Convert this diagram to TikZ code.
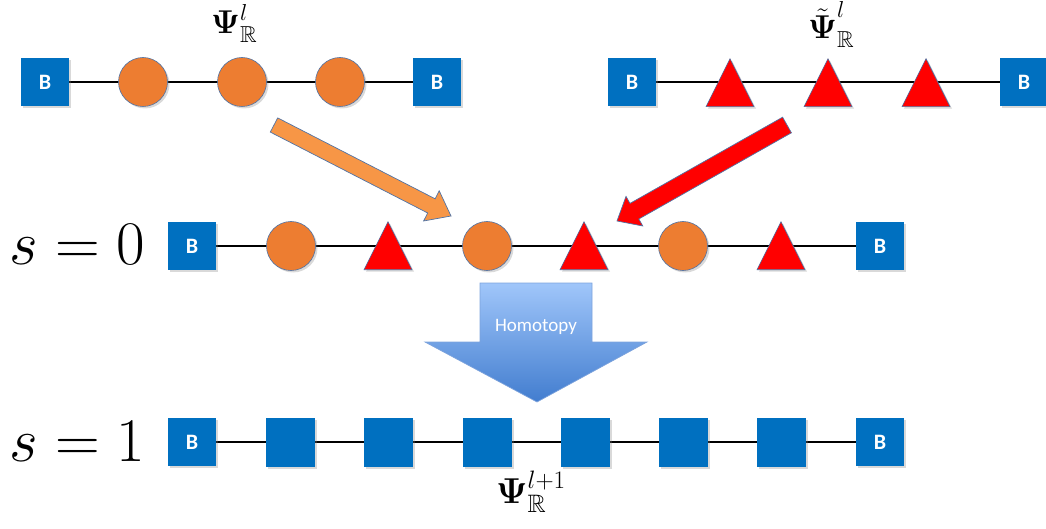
\RequirePackage{fix-cm}
\documentclass[tikz,border=0pt]{standalone}
\usepackage{amsmath,amssymb}
\usepackage[no-math]{fontspec}
\newfontfamily\carlito{Carlito}
\usetikzlibrary{shapes.geometric,shadows}
\pgfdeclarelayer{bg}
\pgfsetlayers{bg,main}
\definecolor{bcol}{RGB}{0,112,192}
\definecolor{ocol}{RGB}{237,125,49}
\definecolor{edgecol}{RGB}{80,115,165}
\definecolor{oarrow}{RGB}{247,150,70}
\definecolor{htop}{RGB}{160,198,250}
\definecolor{hbot}{RGB}{66,125,207}
\definecolor{hedge}{RGB}{125,163,220}
\begin{document}
\begin{tikzpicture}[x=1pt,y=-1pt,
  shad/.style={drop shadow={opacity=0.3,shadow xshift=2pt,shadow yshift=-2pt}},
  bbox/.style={rectangle, fill=bcol, minimum size=48pt, inner sep=0pt, text=white,
    font=\carlito\bfseries\fontsize{22}{22}\selectfont, shad},
  sqbox/.style={bbox, minimum size=49pt},
  orb/.style={circle, fill=ocol, draw=edgecol, line width=0.6pt, minimum size=49pt, inner sep=0pt, shad},
  tri/.style={isosceles triangle, isosceles triangle stretches, shape border rotate=90,
    fill=red, draw=edgecol, line width=0.6pt, minimum width=48pt, minimum height=48pt,
    inner sep=0pt, anchor=lower side, shad},
  chain/.style={line width=2.7pt, black},
  lbl/.style={inner sep=0pt, anchor=base west},
  fat/.style={line width=0.7pt, draw=edgecol, line join=miter}
]
\useasboundingbox (0,0) rectangle (1046,529);

% ---------- top left row ----------
\node[bbox] (a0) at (45,82) {B};
\node[orb] (a1) at (143,82) {};
\node[orb] (a2) at (242,82) {};
\node[orb] (a3) at (340,82) {};
\node[bbox] (a4) at (437,82) {B};

% ---------- top right row ----------
\node[bbox] (b0) at (632,82) {B};
\node[tri] (b1) at (730,107) {};
\node[tri] (b2) at (828,107) {};
\node[tri] (b3) at (926,107) {};
\node[bbox] (b4) at (1024,82) {B};

% ---------- middle row ----------
\node[bbox] (m0) at (192,246) {B};
\node[orb] (m1) at (291,246) {};
\node[tri] (m2) at (388,270) {};
\node[orb] (m3) at (487,246) {};
\node[tri] (m4) at (584,270) {};
\node[orb] (m5) at (683,246) {};
\node[tri] (m6) at (781,270) {};
\node[bbox] (m7) at (880,246) {B};

% ---------- bottom row ----------
\node[bbox] (c0) at (192,442) {B};
\node[sqbox] (c1) at (290,442) {};
\node[sqbox] (c2) at (388,442) {};
\node[sqbox] (c3) at (487,442) {};
\node[sqbox] (c4) at (585,442) {};
\node[sqbox] (c5) at (683,442) {};
\node[sqbox] (c6) at (781,442) {};
\node[bbox] (c7) at (880,442) {B};

\begin{pgfonlayer}{bg}
  \draw[chain] (a0.center) -- (a4.center);
  \draw[chain] (b0.center) -- (b4.center);
  \draw[chain] (m0.center) -- (m7.center);
  \draw[chain, line width=2.3pt] (c0.center) -- (c7.center);
\end{pgfonlayer}

% ---------- labels ----------
\node[lbl, font=\fontsize{33}{33}\selectfont] (psiA) at (211,34) {$\boldsymbol{\Psi}^{l}_{\mathbb{R}}$};
\node[lbl, font=\fontsize{33}{33}\selectfont] (psiB) at (808,39) {$\tilde{\boldsymbol{\Psi}}^{l}_{\mathbb{R}}$};
\node[lbl, font=\fontsize{36}{36}\selectfont] (psiC) at (496,503) {$\boldsymbol{\Psi}^{l+1}_{\mathbb{R}}$};
\node[lbl, font=\fontsize{62}{62}\selectfont] (s0) at (9,265) {$s=0$};
\node[lbl, font=\fontsize{62}{62}\selectfont] (s1) at (9,461) {$s=1$};

% ---------- fat arrows ----------
\draw[fat, fill=oarrow] (270.3,132.1) -- (427.7,213.0) -- (423.6,221.0) -- (451,216)
  -- (439.2,190.8) -- (435.1,198.8) -- (277.7,117.9) -- cycle;
\draw[fat, fill=red] (791.4,132.8) -- (638.8,219.0) -- (642.8,226.0) -- (617,221)
  -- (626.0,196.4) -- (630.0,203.4) -- (782.6,117.2) -- cycle;

% ---------- homotopy arrow ----------
\draw[draw=hedge, line width=0.7pt, top color=htop, bottom color=hbot]
  (480,283) -- (592,283) -- (592,342) -- (647,342) -- (537,402) -- (425,342) -- (480,342) -- cycle;
\node[font=\carlito\fontsize{19}{19}\selectfont, text=white] (homtext) at (536,327) {Homotopy};
\end{tikzpicture}
\end{document}
